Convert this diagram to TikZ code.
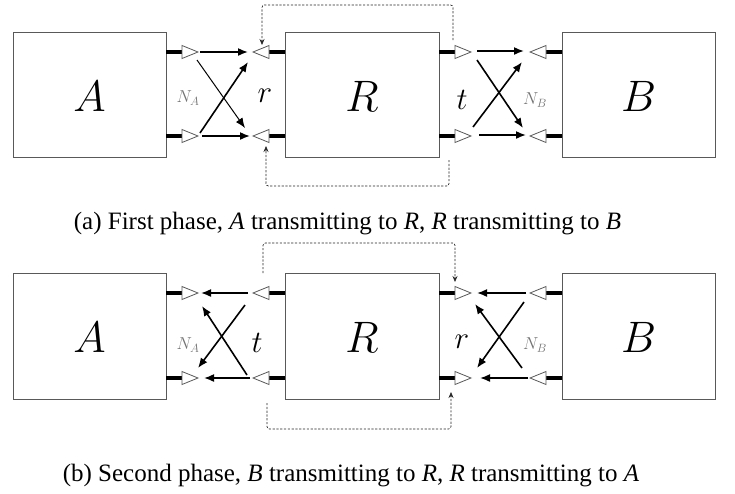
\documentclass[tikz,border=0pt]{standalone}
\usepackage{graphicx}
\usepackage{fontspec}
\newfontfamily\capfont{Liberation Serif}
\usetikzlibrary{arrows.meta}
\tikzset{
  box/.style={draw=black!65, line width=1pt},
  stub/.style={line width=3.4pt, black},
  tri/.style={draw=black!65, fill=white, line width=0.8pt},
  arr/.style={-{Latex[length=10pt,width=8pt]}, line width=1.6pt},
  thinarr/.style={-{Latex[length=10pt,width=8pt]}, line width=1pt},
  fb/.style={draw=black!85, line width=0.7pt, dash pattern=on 2.2pt off 1.6pt, rounded corners=2.5pt, -{Stealth[length=6pt,width=5pt]}},
  big/.style={font=\fontsize{24.88}{30}\selectfont},
  mid/.style={font=\fontsize{24.88}{30}\selectfont},
  noise/.style={text=black!55, font=\fontsize{17.28}{20}\selectfont},
  captext/.style={font=\capfont\fontsize{25}{28}\selectfont, anchor=base}
}
\newcommand{\boxlbl}[1]{\scalebox{1.77}{$#1$}}
\newcommand{\midlbl}[1]{\scalebox{1.25}{$#1$}}
\newcommand{\rtri}[2]{\path[tri] (#1,#2-6.5) -- (#1+16,#2) -- (#1,#2+6.5) -- cycle;}
\newcommand{\ltri}[2]{\path[tri] (#1,#2) -- (#1+16,#2-6.5) -- (#1+16,#2+6.5) -- cycle;}
\begin{document}
\begin{tikzpicture}[x=1pt,y=-1pt]
\useasboundingbox (0,0) rectangle (735,493);
% ---------- row (a) ----------
\begin{scope}
\draw[box] (13,32) rectangle (166,157);
\draw[box] (285,32) rectangle (439,157);
\draw[box] (562,32) rectangle (715,157);
\node[big] (A1) at (89.5,96) {\boxlbl{A}};
\node[big] (R1) at (362,96) {\boxlbl{R}};
\node[big] (B1) at (638.5,96) {\boxlbl{B}};
\foreach \y in {52,136}{
  \draw[stub] (166,\y) -- (182,\y); \rtri{182}{\y}
  \draw[stub] (269,\y) -- (285,\y); \ltri{253}{\y}
  \draw[stub] (439,\y) -- (455,\y); \rtri{455}{\y}
  \draw[stub] (546,\y) -- (562,\y); \ltri{530}{\y}
}
\coordinate (a1) at (200,52); \coordinate (a2) at (248,52);
\coordinate (a3) at (202,136); \coordinate (a4) at (250,136);
\coordinate (a5) at (197,60); \coordinate (a6) at (245,128);
\coordinate (a7) at (200,133); \coordinate (a8) at (248,62);
\draw[arr] (a1) -- (a2);
\draw[arr] (a3) -- (a4);
\draw[thinarr] (a5) -- (a6);
\draw[arr] (a7) -- (a8);
\coordinate (b1) at (477,51); \coordinate (b2) at (524,51);
\coordinate (b3) at (479,135); \coordinate (b4) at (526,135);
\coordinate (b5) at (477,60); \coordinate (b6) at (523,128);
\coordinate (b7) at (473,127); \coordinate (b8) at (522,62);
\draw[arr] (b1) -- (b2);
\draw[arr] (b3) -- (b4);
\draw[arr] (b5) -- (b6);
\draw[arr] (b7) -- (b8);
\node[noise] (NA1) at (188,98) {$N_A$};
\node[mid] (r1) at (265,96) {\midlbl{r}};
\node[mid] (t1) at (462,100) {\midlbl{t}};
\node[noise] (NB1) at (535,100) {$N_B$};
\coordinate (f1) at (453,40); \coordinate (f2) at (262,45);
\draw[fb] (f1) -- (453,5) -- (262,5) -- (f2);
\coordinate (g1) at (449,160); \coordinate (g2) at (266,146);
\draw[fb] (g1) -- (449,186) -- (266,186) -- (g2);
\node[captext] (capa) at (347.5,229) {(a) First phase, \textit{A} transmitting to \textit{R}, \textit{R} transmitting to \textit{B}};
\end{scope}
% ---------- row (b) ----------
\begin{scope}[shift={(0,241)}]
\draw[box] (13,32) rectangle (166,158);
\draw[box] (285,32) rectangle (439,158);
\draw[box] (562,32) rectangle (715,158);
\node[big] (A2) at (89.5,96) {\boxlbl{A}};
\node[big] (R2) at (362,96) {\boxlbl{R}};
\node[big] (B2) at (638.5,96) {\boxlbl{B}};
\foreach \y in {52,137}{
  \draw[stub] (166,\y) -- (182,\y); \rtri{182}{\y}
  \draw[stub] (269,\y) -- (285,\y); \ltri{253}{\y}
  \draw[stub] (439,\y) -- (455,\y); \rtri{455}{\y}
  \draw[stub] (546,\y) -- (562,\y); \ltri{530}{\y}
}
\coordinate (c1) at (248,52); \coordinate (c2) at (201,52);
\coordinate (c3) at (250,137); \coordinate (c4) at (204,137);
\coordinate (c5) at (245,64); \coordinate (c6) at (198,127);
\coordinate (c7) at (247,134); \coordinate (c8) at (202,65);
\draw[arr] (c1) -- (c2);
\draw[arr] (c3) -- (c4);
\draw[arr] (c5) -- (c6);
\draw[arr] (c7) -- (c8);
\coordinate (d1) at (526,52); \coordinate (d2) at (477,52);
\coordinate (d3) at (528,137); \coordinate (d4) at (480,137);
\coordinate (d5) at (524,61); \coordinate (d6) at (477,127);
\coordinate (d7) at (522,127); \coordinate (d8) at (475,63);
\draw[arr] (d1) -- (d2);
\draw[arr] (d3) -- (d4);
\draw[arr] (d5) -- (d6);
\draw[arr] (d7) -- (d8);
\node[noise] (NA2) at (188,104) {$N_A$};
\node[mid] (t2) at (257,102) {\midlbl{t}};
\node[mid] (r2) at (462,101) {\midlbl{r}};
\node[noise] (NB2) at (535,104) {$N_B$};
\coordinate (h1) at (263,32); \coordinate (h2) at (455,41);
\draw[fb] (h1) -- (263,2) -- (455,2) -- (h2);
\coordinate (k1) at (267,162); \coordinate (k2) at (451,151);
\draw[fb] (k1) -- (267,188) -- (451,188) -- (k2);
\node[captext] (capb) at (351,240) {(b) Second phase, \textit{B} transmitting to \textit{R}, \textit{R} transmitting to \textit{A}};
\end{scope}
\end{tikzpicture}
\end{document}
